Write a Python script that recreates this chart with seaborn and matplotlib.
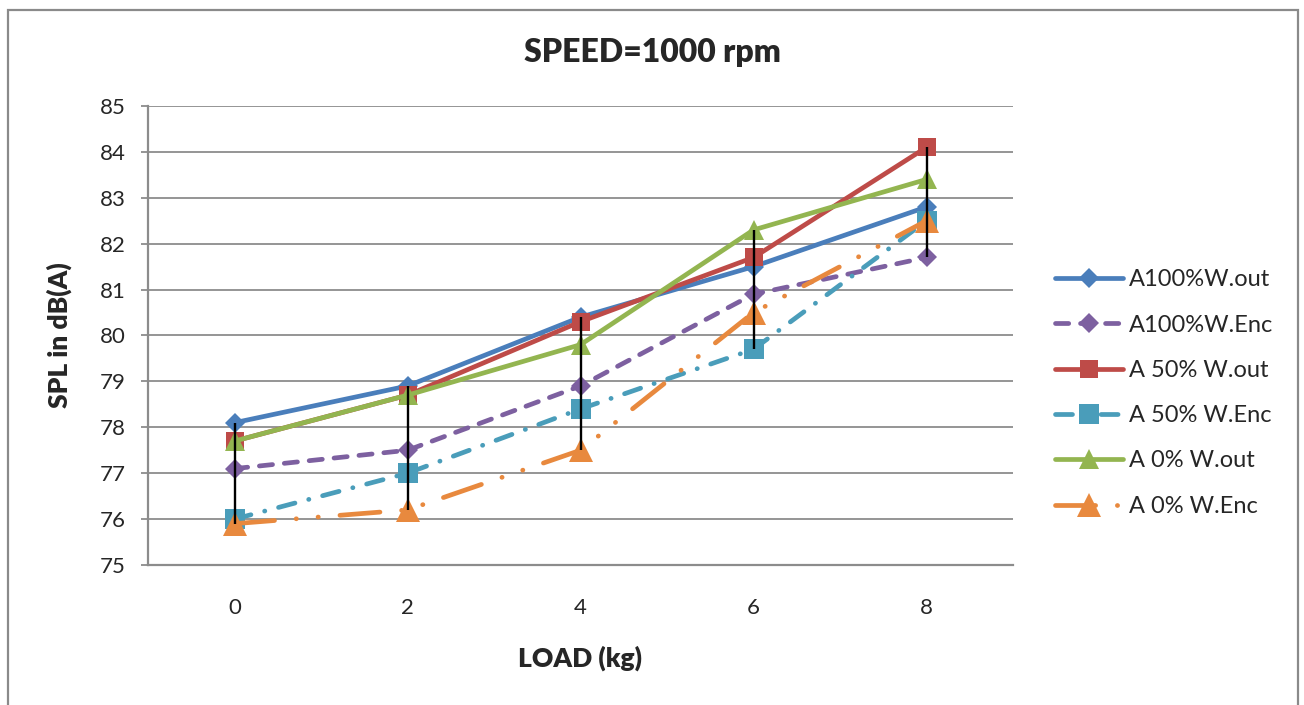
import numpy as np
import pandas as pd
import matplotlib
matplotlib.use("Agg")
import matplotlib.pyplot as plt
from matplotlib.patches import Rectangle
import seaborn as sns

# Sound pressure level measurements at 1000 rpm
load_kg = [0, 2, 4, 6, 8]
series_names = ["A100%W.out", "A100%W.Enc", "A 50% W.out",
                "A 50% W.Enc", "A 0% W.out", "A 0% W.Enc"]
a100_out = [78.1, 78.9, 80.4, 81.5, 82.8]
a100_enc = [77.1, 77.5, 78.9, 80.9, 81.7]
a50_out = [77.7, 78.7, 80.3, 81.7, 84.1]
a50_enc = [76.0, 77.0, 78.4, 79.7, 82.5]
a0_out = [77.7, 78.7, 79.8, 82.3, 83.4]
a0_enc = [75.9, 76.2, 77.5, 80.5, 82.5]
y_ticks = list(range(75, 86))

all_series = [a100_out, a100_enc, a50_out, a50_enc, a0_out, a0_enc]
df = pd.DataFrame({
    "LOAD": load_kg * len(series_names),
    "SPL": np.concatenate(all_series),
    "series": np.repeat(series_names, len(load_kg)),
})

palette = dict(zip(series_names, ["#4A7EBB", "#7D60A0", "#BE4B48",
                                  "#4A9DBA", "#93B550", "#E8893E"]))
markers = dict(zip(series_names, ["D", "D", "s", "s", "^", "^"]))
dashes = dict(zip(series_names, ["", (2.8, 2.5), "",
                                 (3.6, 3.0, 0.05, 3.0), "",
                                 (8.5, 4.6, 0.05, 4.6, 0.05, 4.6)]))
marker_sizes = [10.5, 10.5, 13.5, 14, 14, 17.5]

sns.set_style("white")
plt.rcParams["font.family"] = ["Lato", "DejaVu Sans"]

fig = plt.figure(figsize=(13.04, 7.05), dpi=100, facecolor="white")
ax = fig.add_axes([148 / 1304, 140 / 705, 865 / 1304, 459 / 705])

sns.lineplot(data=df, x="LOAD", y="SPL", hue="series", style="series",
             hue_order=series_names, style_order=series_names,
             palette=palette, markers=markers, dashes=dashes,
             linewidth=3.4, markersize=14, markeredgewidth=0,
             dash_capstyle="round", solid_capstyle="round",
             errorbar=None, sort=False, legend=False, ax=ax)

lines = ax.lines[:len(series_names)]
for ln, ms in zip(lines, marker_sizes):
    ln.set_markersize(ms)

# high-low lines spanning all series at each load
stack = np.vstack(all_series)
ax.vlines(load_kg, stack.min(axis=0), stack.max(axis=0),
          colors="black", linewidth=1.7, zorder=5)

grid_c = "#8C8C8C"
ax.set_xlim(-1, 9)
ax.set_ylim(75, 85)
ax.set_xticks(load_kg)
ax.set_yticks(y_ticks)
ax.set_axisbelow(True)
ax.yaxis.grid(True, color=grid_c, linewidth=1.3)
ax.xaxis.grid(False)
for side in ["top", "right"]:
    ax.spines[side].set_visible(False)
for side in ["left", "bottom"]:
    ax.spines[side].set_color(grid_c)
    ax.spines[side].set_linewidth(1.6)
ax.tick_params(axis="y", direction="out", length=5, width=1.3,
               color=grid_c, pad=11, labelsize=16, left=True)
ax.tick_params(axis="x", length=0, pad=24, labelsize=16)

ax.set_xlabel("LOAD (kg)", fontsize=19, fontweight="heavy")
ax.xaxis.set_label_coords(0.5, -0.175)
ax.set_ylabel("SPL in dB(A)", fontsize=19, fontweight="heavy")
ax.yaxis.set_label_coords(-0.088, 0.5)

fig.text(0.5, 1 - 62 / 705, "SPEED=1000 rpm", ha="center", va="baseline",
         fontsize=23, fontweight="heavy")

ax.legend(handles=lines, labels=series_names, loc="center left",
          bbox_to_anchor=(1055 / 1304, 1 - 393 / 705),
          bbox_transform=fig.transFigure, frameon=False, borderpad=0,
          borderaxespad=0, handlelength=2.9, handletextpad=0.25,
          labelspacing=1.03, fontsize=17)

fig.add_artist(Rectangle((8 / 1304, -0.1), 1290 / 1304, 1.1 - 10 / 705,
                         transform=fig.transFigure, fill=False,
                         edgecolor="#8A8A8A", linewidth=1.6))

fig.savefig("out.png", dpi=100, facecolor="white")
